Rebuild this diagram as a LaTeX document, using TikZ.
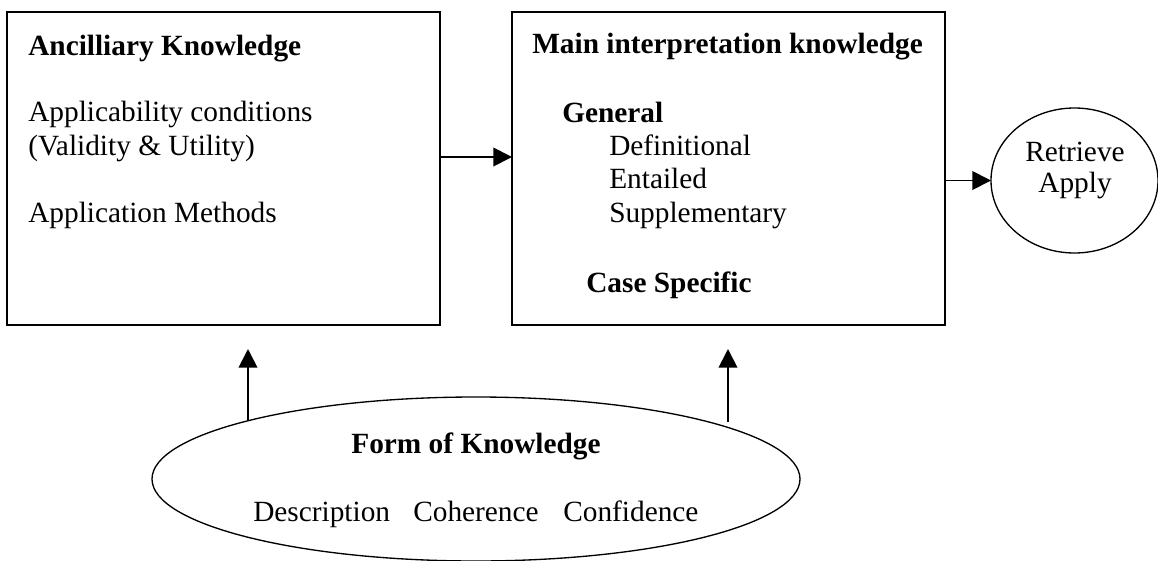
\documentclass[tikz,border=0pt]{standalone}
\usepackage{fontspec}
\setmainfont{Liberation Serif}
\usetikzlibrary{shapes.geometric,arrows.meta,calc}
\begin{document}
\begin{tikzpicture}[x=0.75pt,y=-0.75pt,
  box/.style={draw,line width=1.3pt,inner sep=0pt,outer sep=0pt,minimum width=324.75pt,minimum height=234.75pt},
  oval/.style={draw,ellipse,line width=1pt,inner sep=0pt,outer sep=0pt},
  nt/.style={anchor=base west,inner sep=0pt,font=\fontsize{22}{26}\selectfont},
  bt/.style={nt,font=\fontsize{22}{26}\selectfont\bfseries},
  ct/.style={nt,anchor=base},
  arr/.style={line width=1.4pt,-{Triangle[length=14pt,width=14pt]}}]
\useasboundingbox (0,0) rectangle (1158,561);
% boxes
\node[box] (anc) at (223.5,168.5) {};
\node[box] (main) at (728.5,168.5) {};
\node[oval,minimum width=125.25pt,minimum height=108.75pt] (ret) at (1074.5,180.5) {};
\node[oval,minimum width=486pt,minimum height=123pt] (form) at (476,479) {};
% arrow start points on the ellipse
\coordinate (fl) at ($(form.center)+(-228,-58)$);
\coordinate (fr) at ($(form.center)+(252,-57)$);
% texts
\node[bt] (ancT) at (28,55) {Ancilliary Knowledge};
\node[nt] (app1) at (28,121) {Applicability conditions};
\node[nt] (app2) at (28,155) {(Validity \& Utility)};
\node[nt] (app3) at (28,222) {Application Methods};
\node[bt] (mainT) at (532,53) {Main interpretation knowledge};
\node[bt] (gen) at (562,122) {General};
\node[nt] (def) at (609,155) {Definitional};
\node[nt] (ent) at (609,188) {Entailed};
\node[nt] (sup) at (609,222) {Supplementary};
\node[bt] (case) at (586,292) {Case Specific};
\node[ct] (retT) at (1075,161) {Retrieve};
\node[ct] (appT) at (1075,192) {Apply};
\node[bt,anchor=base] (formT) at (476,453) {Form of Knowledge};
\node[nt] (desc) at (253,521) {Description};
\node[nt] (coh) at (413,521) {Coherence};
\node[nt] (conf) at (563,521) {Confidence};
% connectors
\draw[arr] (anc.east |- 0,157) -- (main.west |- 0,157);
\draw[arr] (main.east |- ret.west) -- (ret.west);
\draw[arr] (fl) -- ($(anc.south -| fl)+(0,24)$);
\draw[arr] (fr) -- ($(main.south -| fr)+(0,24)$);
\end{tikzpicture}
\end{document}
